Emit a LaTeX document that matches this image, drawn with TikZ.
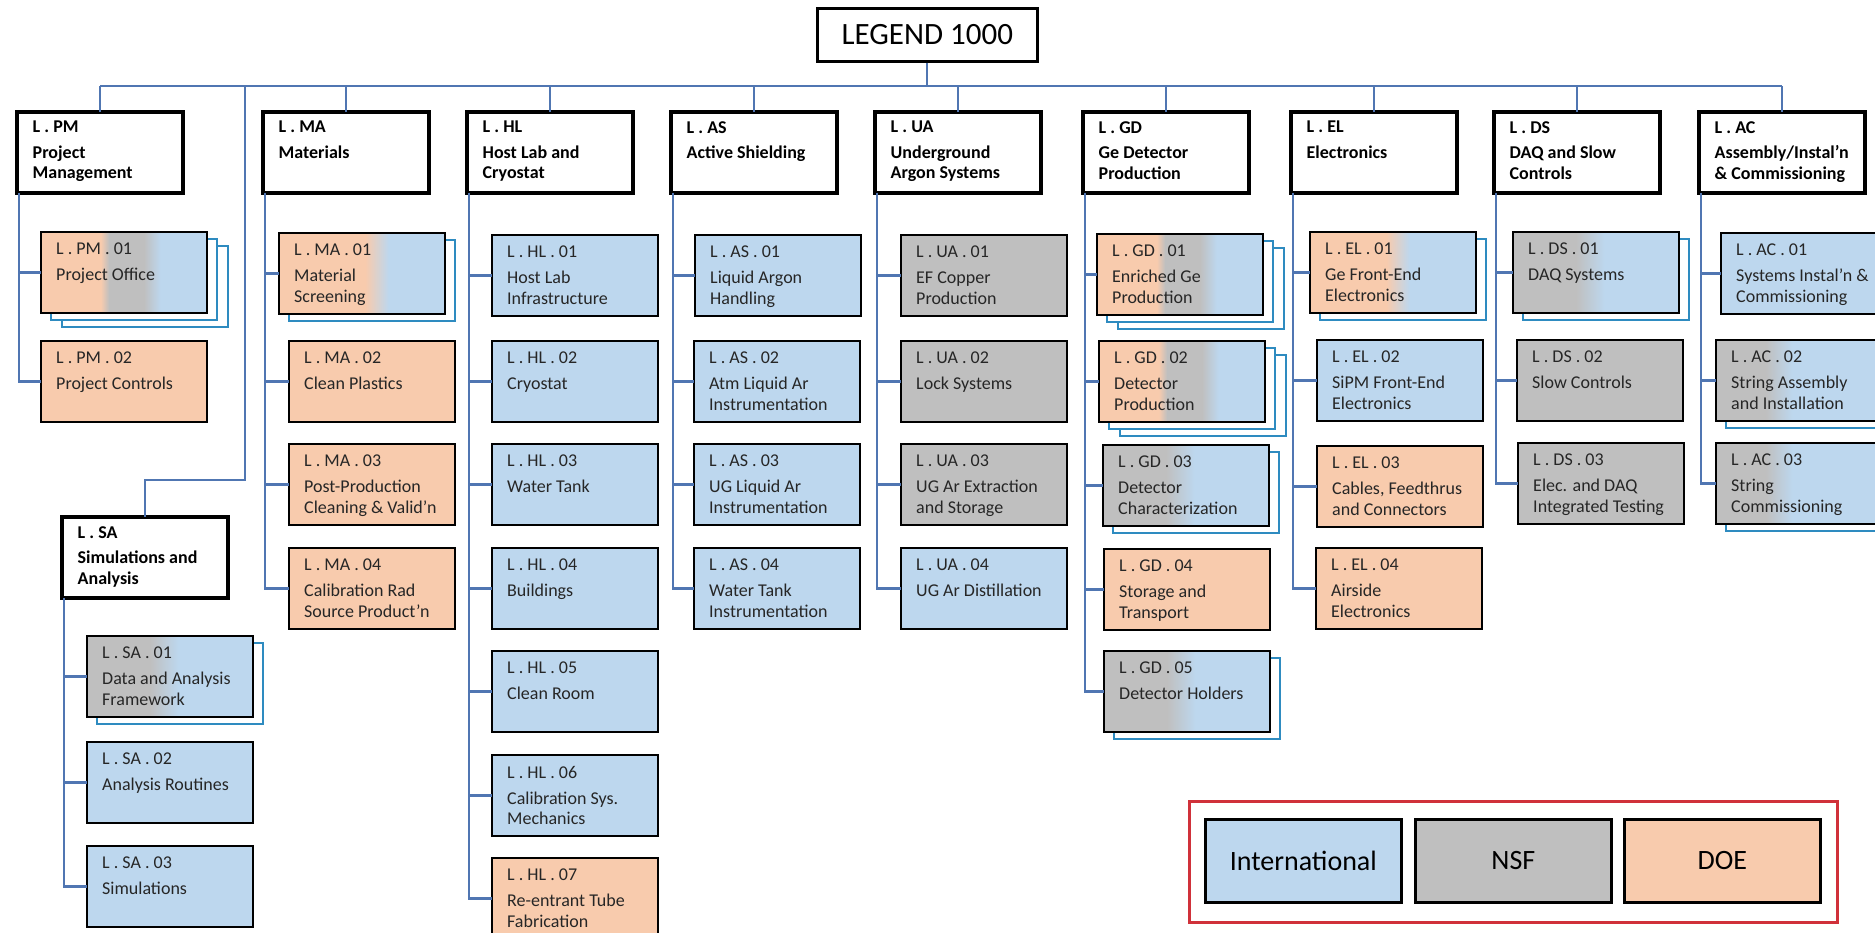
\documentclass[tikz,border=0pt]{standalone}
\usepackage{fontspec}
\setmainfont{Carlito}
\usetikzlibrary{calc}
\definecolor{cB}{HTML}{BDD7EE}
\definecolor{cG}{HTML}{BFBFBF}
\definecolor{cO}{HTML}{F8CBAD}
\definecolor{cConn}{HTML}{5076B2}
\definecolor{cShad}{HTML}{2E8BC0}
\definecolor{cRed}{HTML}{D0313A}
\pgfdeclarehorizontalshading{shOGB}{100bp}{color(0bp)=(cO); color(43bp)=(cO); color(45.5bp)=(cG); color(56bp)=(cG); color(61bp)=(cB); color(100bp)=(cB)}
\pgfdeclarehorizontalshading{shOB}{100bp}{color(0bp)=(cO); color(48bp)=(cO); color(55bp)=(cB); color(100bp)=(cB)}
\pgfdeclarehorizontalshading{shOBwide}{100bp}{color(0bp)=(cO); color(51bp)=(cO); color(58bp)=(cB); color(100bp)=(cB)}
\pgfdeclarehorizontalshading{shGB}{100bp}{color(0bp)=(cG); color(44bp)=(cG); color(52.5bp)=(cB); color(100bp)=(cB)}
\pgfdeclarehorizontalshading{shGBnarrow}{100bp}{color(0bp)=(cG); color(40bp)=(cG); color(48bp)=(cB); color(100bp)=(cB)}
% name, x, y, fill style, number of shadows, text
\newcommand\childbox[6]{%
  \ifnum#5>1 \draw[shad] (#2+21,#3+14) rectangle ++(166,81);\fi
  \ifnum#5>0 \draw[shad] (#2+10,#3+7) rectangle ++(166,81);\fi
  \node[childbx,#4] (#1) at (#2,#3) {};
  \node[ctext] (#1-t) at ($(#1.north west)+(15,11)$) {#6};
}
\newcommand\catbox[3]{%
  \node[catbx] (#1) at (#2,112) {};
  \node[ttext] (#1-t) at ($(#1.north west)+(15.5,9)$) {#3};
}
\begin{document}
\begin{tikzpicture}[x=1pt,y=-1pt,
  conn/.style={draw=cConn, line width=2.2pt},
  shad/.style={draw=cShad, line width=2pt, fill=white},
  catbx/.style={draw=black, line width=3.4pt, fill=white, minimum width=166pt, minimum height=81pt, anchor=north west, inner sep=0pt, outer sep=0pt},
  childbx/.style={draw=black, line width=2.6pt, minimum width=166pt, minimum height=81pt, anchor=north west, inner sep=0pt, outer sep=0pt},
  intl/.style={fill=cB}, nsf/.style={fill=cG}, doe/.style={fill=cO},
  ogb/.style={shade, shading=shOGB}, ob/.style={shade, shading=shOB}, obw/.style={shade, shading=shOBwide},
  gb/.style={shade, shading=shGB}, gbn/.style={shade, shading=shGBnarrow},
  ctext/.style={anchor=north west, inner sep=0pt, align=left, text=black!85, font=\fontsize{18}{20.5}\selectfont},
  ttext/.style={anchor=north west, inner sep=0pt, align=left, text=black, font=\fontsize{18}{20.5}\selectfont\bfseries},
  legbx/.style={draw=black, line width=2.6pt, minimum width=196pt, minimum height=83pt, anchor=north west, inner sep=0pt, font=\fontsize{28}{32}\selectfont}
]
\useasboundingbox (0,0) rectangle (1875,933);
\clip (0,0) rectangle (1875,933);
\fill[white] (0,0) rectangle (1875,933);

% top
\node[draw=black, line width=2.6pt, fill=white, minimum width=220pt, minimum height=53pt, anchor=north west, inner sep=0pt, font=\fontsize{31}{35}\selectfont] (top) at (816,7) {LEGEND 1000};

% categories
\catbox{PM}{17}{L . PM\\[5pt]Project\\Management}
\catbox{MA}{263}{L . MA\\[5pt]Materials}
\catbox{HL}{467}{L . HL\\[5pt]Host Lab and\\Cryostat}
\catbox{AS}{671}{L . AS\\[5pt]Active Shielding}
\catbox{UA}{875}{L . UA\\[5pt]Underground\\Argon Systems}
\catbox{GD}{1083}{L . GD\\[5pt]Ge Detector\\Production}
\catbox{EL}{1291}{L . EL\\[5pt]Electronics}
\catbox{DS}{1494}{L . DS\\[5pt]DAQ and Slow\\Controls}
\catbox{AC}{1699}{L . AC\\[5pt]Assembly/Instal’n\\\& Commissioning}
\node[catbx] (SA) at (62,517) {};
\node[ttext] (SA-t) at ($(SA.north west)+(15.5,9)$) {L . SA\\[5pt]Simulations and\\Analysis};

% bus
\coordinate (bus) at (0,86);
\coordinate (sabr) at (245,86);
\draw[conn] (top.south) -- (top.south |- bus);
\draw[conn] (PM.north |- bus) -- (AC.north |- bus);
\foreach \n in {PM,MA,HL,AS,UA,GD,EL,DS,AC} {\draw[conn] (\n.north) -- (\n.north |- bus);}
\draw[conn] (sabr) -- ++(0,394) -| (SA.north);

% children
\childbox{PM1}{41}{232}{ogb}{2}{L . PM . 01\\[5.5pt]Project Office}
\childbox{PM2}{41}{341}{doe}{0}{L . PM . 02\\[5.5pt]Project Controls}

\childbox{MA1}{279}{233}{obw}{1}{L . MA . 01\\[5.5pt]Material\\Screening}
\childbox{MA2}{289}{341}{doe}{0}{L . MA . 02\\[5.5pt]Clean Plastics}
\childbox{MA3}{289}{444}{doe}{0}{L . MA . 03\\[5.5pt]Post-Production\\Cleaning \& Valid’n}
\childbox{MA4}{289}{548}{doe}{0}{L . MA . 04\\[5.5pt]Calibration Rad\\Source Product’n}

\childbox{HL1}{492}{235}{intl}{0}{L . HL . 01\\[5.5pt]Host Lab\\Infrastructure}
\childbox{HL2}{492}{341}{intl}{0}{L . HL . 02\\[5.5pt]Cryostat}
\childbox{HL3}{492}{444}{intl}{0}{L . HL . 03\\[5.5pt]Water Tank}
\childbox{HL4}{492}{548}{intl}{0}{L . HL . 04\\[5.5pt]Buildings}
\childbox{HL5}{492}{651}{intl}{0}{L . HL . 05\\[5.5pt]Clean Room}
\childbox{HL6}{492}{755}{intl}{0}{L . HL . 06\\[5.5pt]Calibration Sys.\\Mechanics}
\childbox{HL7}{492}{858}{doe}{0}{L . HL . 07\\[5.5pt]Re-entrant Tube\\Fabrication}

\childbox{AS1}{695}{235}{intl}{0}{L . AS . 01\\[5.5pt]Liquid Argon\\Handling}
\childbox{AS2}{694}{341}{intl}{0}{L . AS . 02\\[5.5pt]Atm Liquid Ar\\Instrumentation}
\childbox{AS3}{694}{444}{intl}{0}{L . AS . 03\\[5.5pt]UG Liquid Ar\\Instrumentation}
\childbox{AS4}{694}{548}{intl}{0}{L . AS . 04\\[5.5pt]Water Tank\\Instrumentation}

\childbox{UA1}{901}{235}{nsf}{0}{L . UA . 01\\[5.5pt]EF Copper\\Production}
\childbox{UA2}{901}{341}{nsf}{0}{L . UA . 02\\[5.5pt]Lock Systems}
\childbox{UA3}{901}{444}{nsf}{0}{L . UA . 03\\[5.5pt]UG Ar Extraction\\and Storage}
\childbox{UA4}{901}{548}{intl}{0}{L . UA . 04\\[5.5pt]UG Ar Distillation}

\childbox{GD1}{1097}{234}{ogb}{2}{L . GD . 01\\[5.5pt]Enriched Ge\\Production}
\childbox{GD2}{1099}{341}{ogb}{2}{L . GD . 02\\[5.5pt]Detector\\Production}
\childbox{GD3}{1103}{445}{gb}{1}{L . GD . 03\\[5.5pt]Detector\\Characterization}
\childbox{GD4}{1104}{549}{doe}{0}{L . GD . 04\\[5.5pt]Storage and\\Transport}
\childbox{GD5}{1104}{651}{gb}{1}{L . GD . 05\\[5.5pt]Detector Holders}

\childbox{EL1}{1310}{232}{ob}{1}{L . EL . 01\\[5.5pt]Ge Front-End\\Electronics}
\childbox{EL2}{1317}{340}{intl}{0}{L . EL . 02\\[5.5pt]SiPM Front-End\\Electronics}
\childbox{EL3}{1317}{446}{doe}{0}{L . EL . 03\\[5.5pt]Cables, Feedthrus\\and Connectors}
\childbox{EL4}{1316}{548}{doe}{0}{L . EL . 04\\[5.5pt]Airside\\Electronics}

\childbox{DS1}{1513}{232}{gb}{1}{L . DS . 01\\[5.5pt]DAQ Systems}
\childbox{DS2}{1517}{340}{nsf}{0}{L . DS . 02\\[5.5pt]Slow Controls}
\childbox{DS3}{1518}{443}{nsf}{0}{L . DS . 03\\[5.5pt]Elec. and DAQ\\Integrated Testing}

\childbox{AC1}{1721}{233}{intl}{0}{L . AC . 01\\[5.5pt]Systems Instal’n \&\\Commissioning}
\childbox{AC2}{1716}{340}{gbn}{1}{L . AC . 02\\[5.5pt]String Assembly\\and Installation}
\childbox{AC3}{1716}{443}{gbn}{1}{L . AC . 03\\[5.5pt]String\\Commissioning}

\childbox{SA1}{87}{636}{gb}{1}{L . SA . 01\\[5.5pt]Data and Analysis\\Framework}
\childbox{SA2}{87}{742}{intl}{0}{L . SA . 02\\[5.5pt]Analysis Routines}
\childbox{SA3}{87}{846}{intl}{0}{L . SA . 03\\[5.5pt]Simulations}

% branch connectors
\foreach \p/\cs in {PM/{PM1,PM2}, MA/{MA1,MA2,MA3,MA4}, HL/{HL1,HL2,HL3,HL4,HL5,HL6,HL7}, AS/{AS1,AS2,AS3,AS4}, UA/{UA1,UA2,UA3,UA4}, GD/{GD1,GD2,GD3,GD4,GD5}, EL/{EL1,EL2,EL3,EL4}, DS/{DS1,DS2,DS3}, AC/{AC1,AC2,AC3}, SA/{SA1,SA2,SA3}} {
  \foreach \c in \cs {\draw[conn] ([xshift=2pt]\p.south west) |- (\c.west);}
}

% legend
\node[draw=cRed, line width=2.6pt, minimum width=648pt, minimum height=121pt, anchor=north west, inner sep=0pt] (legframe) at (1188,800) {};
\node[legbx, intl] (lgI) at (1204,818) {International};
\node[legbx, nsf] (lgN) at (1414,818) {NSF};
\node[legbx, doe] (lgD) at (1623,818) {DOE};
\end{tikzpicture}
\end{document}
